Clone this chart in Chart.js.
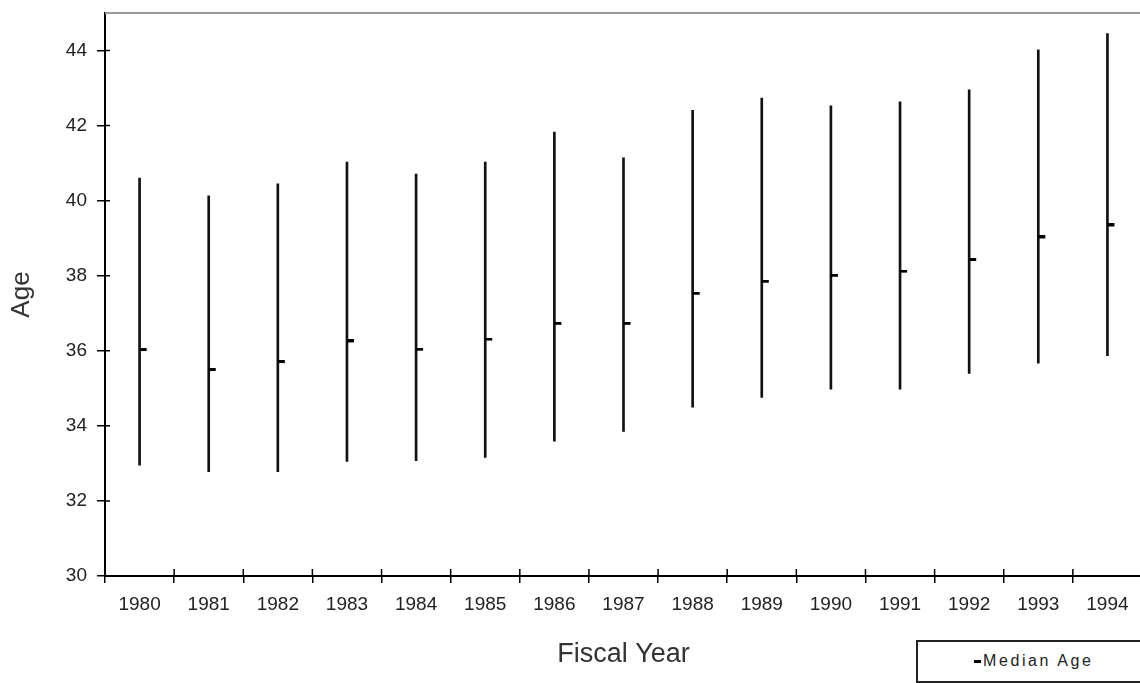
<!DOCTYPE html>
<html>
<head>
<meta charset="utf-8">
<script src="https://cdn.jsdelivr.net/npm/chart.js@4"></script>
<style>
  html, body { margin: 0; padding: 0; background: #fff; overflow: hidden; }
  #wrap { position: relative; width: 1140px; height: 683px; overflow: hidden; }
  #legendBox {
    position: absolute; left: 916px; top: 640px; width: 240px; height: 39px;
    border: 2px solid #222; background: #fff;
    font-family: "Liberation Sans", Arial, sans-serif; font-size: 16px;
    letter-spacing: 2.6px; color: #222;
  }
  #legendBox .dash {
    position: absolute; left: 56px; top: 18px; width: 7px; height: 3px; background: #000;
  }
  #legendBox .txt { position: absolute; left: 65px; top: 10px; }
</style>
</head>
<body>
<div id="wrap">
  <canvas id="ageChart" width="1147" height="683"></canvas>
  <div id="legendBox"><span class="dash"></span><span class="txt">Median Age</span></div>
</div>
<script>
const years = ["1980", "1981", "1982", "1983", "1984", "1985", "1986", "1987",
  "1988", "1989", "1990", "1991", "1992", "1993", "1994"];
const highAge = [40.6, 40.13, 40.45, 41.03, 40.71, 41.03, 41.83, 41.14,
  42.41, 42.73, 42.53, 42.63, 42.95, 44.02, 44.45];
const lowAge = [32.95, 32.78, 32.78, 33.05, 33.07, 33.16, 33.59, 33.85,
  34.5, 34.76, 34.98, 34.98, 35.4, 35.67, 35.87];
const medianAge = [36.02, 35.49, 35.7, 36.25, 36.03, 36.3, 36.72, 36.72,
  37.52, 37.84, 38.0, 38.11, 38.42, 39.02, 39.34];

// short dash sitting to the right of each range line
const medianMark = document.createElement("canvas");
medianMark.width = 16;
medianMark.height = 4;
const mctx = medianMark.getContext("2d");
mctx.fillStyle = "#000";
mctx.fillRect(8, 0, 7, 3);

// ticks crossing the axis lines + grey top border
const axisExtras = {
  id: "axisExtras",
  afterDraw(chart) {
    const ctx = chart.ctx;
    const area = chart.chartArea;
    const xs = chart.scales.x;
    const ys = chart.scales.y;
    ctx.save();
    ctx.strokeStyle = "#000";
    ctx.lineWidth = 1.5;
    ctx.beginPath();
    ys.ticks.forEach((t, i) => {
      const y = ys.getPixelForTick(i);
      ctx.moveTo(area.left, y);
      ctx.lineTo(area.left + 5, y);
    });
    const step = xs.getPixelForTick(1) - xs.getPixelForTick(0);
    for (let i = 1; i <= years.length; i++) {
      const x = xs.getPixelForTick(0) - step / 2 + i * step;
      ctx.moveTo(x, area.bottom);
      ctx.lineTo(x, area.bottom - 7);
    }
    ctx.stroke();
    ctx.strokeStyle = "#999";
    ctx.lineWidth = 2;
    ctx.beginPath();
    ctx.moveTo(area.left, area.top);
    ctx.lineTo(chart.width, area.top);
    ctx.stroke();
    ctx.restore();
  },
};

const rangeData = years.map((y, i) => [lowAge[i], highAge[i]]);

new Chart(document.getElementById("ageChart"), {
  type: "bar",
  data: {
    labels: years,
    datasets: [
      {
        label: "Range",
        data: rangeData,
        backgroundColor: "#111",
        barThickness: 2,
        borderWidth: 0,
        order: 2,
      },
      {
        type: "line",
        label: "Median Age",
        data: medianAge,
        showLine: false,
        pointStyle: medianMark,
        pointRadius: 4,
        order: 1,
      },
    ],
  },
  options: {
    responsive: false,
    animation: false,
    layout: { padding: { top: 13, right: 0, left: 0, bottom: 0 } },
    plugins: {
      legend: { display: false },
      tooltip: { enabled: false },
    },
    scales: {
      x: {
        afterFit: (s) => {
          s.height = 107;
          s.paddingLeft = 0;
          s.paddingRight = 0;
        },
        grid: {
          drawOnChartArea: false,
          offset: true,
          color: "#000",
          lineWidth: 1.5,
          tickLength: 7,
        },
        border: { color: "#000", width: 2 },
        ticks: {
          color: "#222",
          padding: 10,
          maxRotation: 0,
          font: { family: "Liberation Sans", size: 19 },
        },
        title: {
          display: true,
          text: "Fiscal Year",
          color: "#333",
          padding: { bottom: 12 },
          font: { family: "Liberation Sans", size: 27 },
        },
      },
      y: {
        min: 30,
        max: 45,
        afterFit: (s) => {
          s.width = 105;
          s.paddingTop = 0;
          s.paddingBottom = 0;
        },
        afterBuildTicks: (s) => { s.ticks = s.ticks.filter((t) => t.value <= 44); },
        grid: {
          drawOnChartArea: false,
          color: "#000",
          lineWidth: 1.5,
          tickLength: 8,
        },
        border: { color: "#000", width: 2 },
        ticks: {
          stepSize: 2,
          color: "#222",
          padding: 10,
          font: { family: "Liberation Sans", size: 19 },
        },
        title: {
          display: true,
          text: "Age",
          color: "#333",
          padding: { top: 6 },
          font: { family: "Liberation Sans", size: 26 },
        },
      },
    },
  },
  plugins: [axisExtras],
});
</script>
</body>
</html>
